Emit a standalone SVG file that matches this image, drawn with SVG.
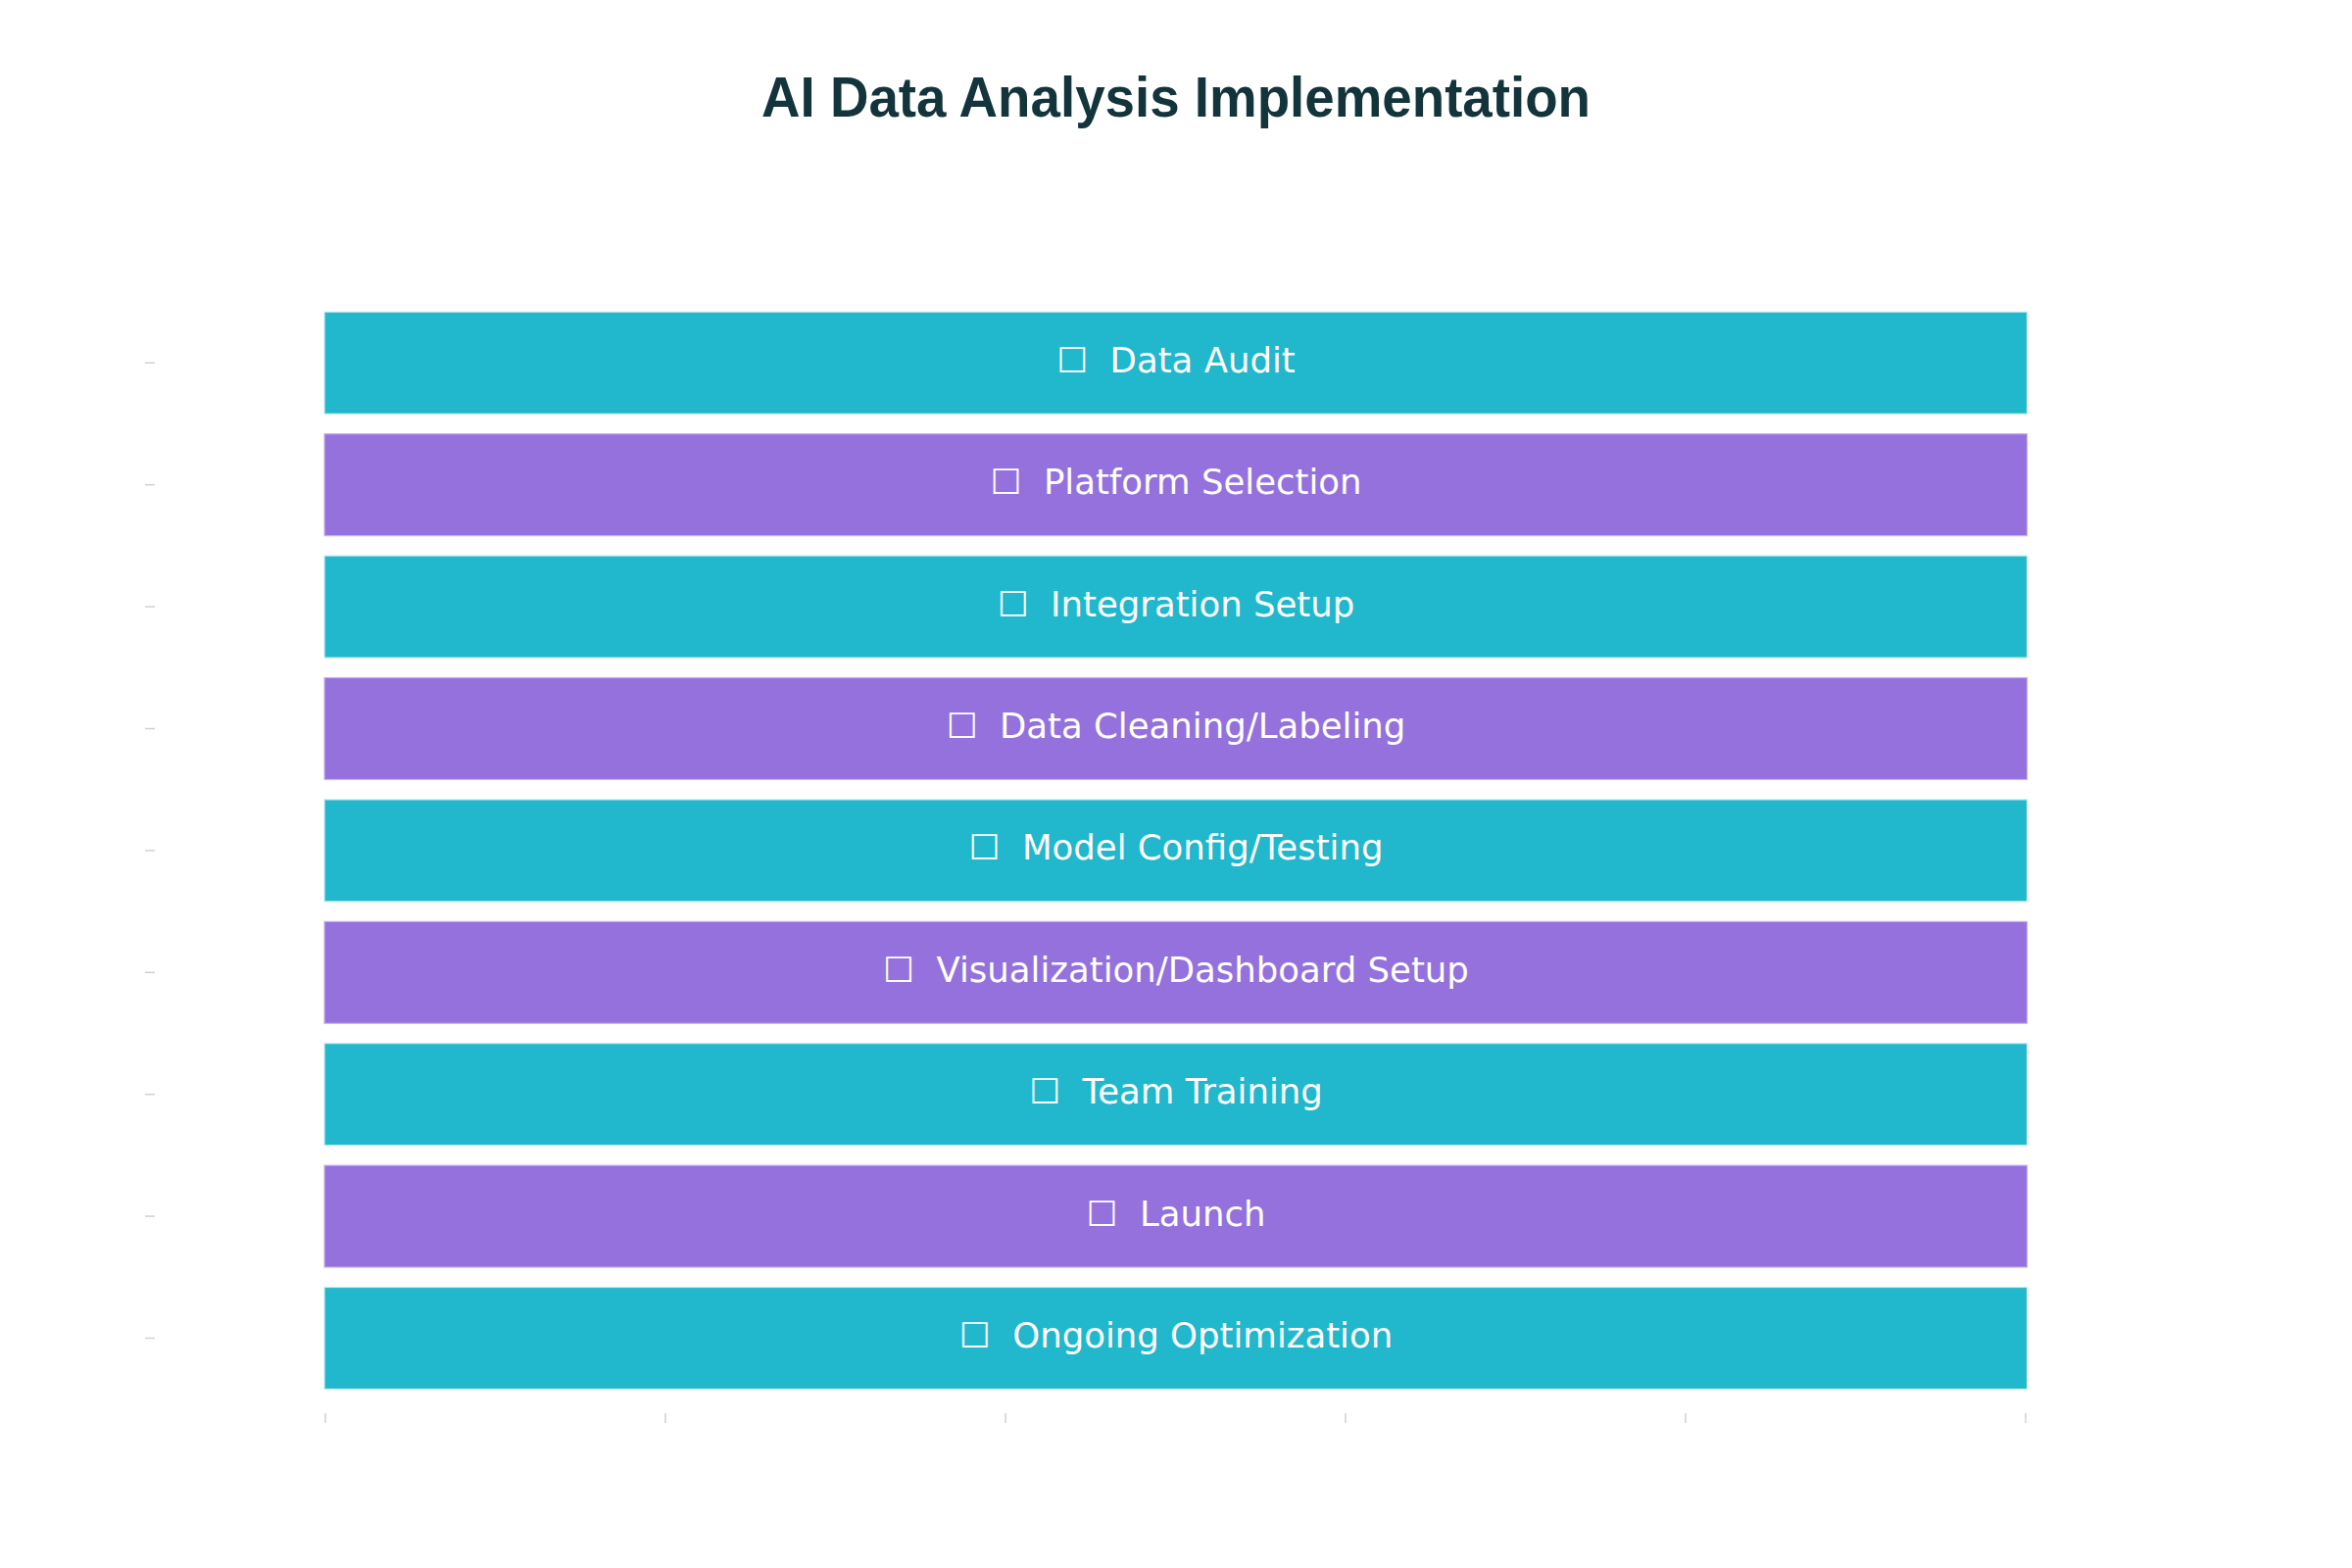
<svg xmlns="http://www.w3.org/2000/svg" width="2400" height="1600" viewBox="0 0 2400 1600">
<style>
.bg{fill:#ffffff}
.title{font-family:"Liberation Sans",Arial,sans-serif;font-weight:bold;font-size:58px;fill:#13343B}
.teal{fill:#21B7CD;stroke:#c8eef3;stroke-width:1.2}
.purple{fill:#9471DC;stroke:#c9b6ef;stroke-width:1.2}
.lbl{font-family:"DejaVu Sans","Noto Sans",sans-serif;font-size:35.5px;fill:#ffffff;text-anchor:middle;white-space:pre}
.tick{stroke:#ccd2d4;stroke-width:1.5}
</style>
<rect class="bg" x="0" y="0" width="2400" height="1600"/>
<text class="title" x="777" y="119" textLength="846" lengthAdjust="spacingAndGlyphs">AI Data Analysis Implementation</text>
<g id="axes">
<line class="tick" x1="148" y1="370.3" x2="158" y2="370.3"/>
<line class="tick" x1="148" y1="494.7" x2="158" y2="494.7"/>
<line class="tick" x1="148" y1="619.1" x2="158" y2="619.1"/>
<line class="tick" x1="148" y1="743.5" x2="158" y2="743.5"/>
<line class="tick" x1="148" y1="867.9" x2="158" y2="867.9"/>
<line class="tick" x1="148" y1="992.3" x2="158" y2="992.3"/>
<line class="tick" x1="148" y1="1116.7" x2="158" y2="1116.7"/>
<line class="tick" x1="148" y1="1241.1" x2="158" y2="1241.1"/>
<line class="tick" x1="148" y1="1365.5" x2="158" y2="1365.5"/>
<line class="tick" x1="332" y1="1442" x2="332" y2="1452"/>
<line class="tick" x1="679" y1="1442" x2="679" y2="1452"/>
<line class="tick" x1="1026" y1="1442" x2="1026" y2="1452"/>
<line class="tick" x1="1373" y1="1442" x2="1373" y2="1452"/>
<line class="tick" x1="1720" y1="1442" x2="1720" y2="1452"/>
<line class="tick" x1="2067" y1="1442" x2="2067" y2="1452"/>
</g>
<g id="connectors"></g>
<g id="n1"><rect class="teal" x="331" y="318.3" width="1737.5" height="104"/><text class="lbl" x="1200" y="379.8">☐  Data Audit</text></g>
<g id="n2"><rect class="purple" x="331" y="442.7" width="1737.5" height="104"/><text class="lbl" x="1200" y="504.2">☐  Platform Selection</text></g>
<g id="n3"><rect class="teal" x="331" y="567.1" width="1737.5" height="104"/><text class="lbl" x="1200" y="628.6">☐  Integration Setup</text></g>
<g id="n4"><rect class="purple" x="331" y="691.5" width="1737.5" height="104"/><text class="lbl" x="1200" y="753">☐  Data Cleaning/Labeling</text></g>
<g id="n5"><rect class="teal" x="331" y="815.9" width="1737.5" height="104"/><text class="lbl" x="1200" y="877.4">☐  Model Config/Testing</text></g>
<g id="n6"><rect class="purple" x="331" y="940.3" width="1737.5" height="104"/><text class="lbl" x="1200" y="1001.8">☐  Visualization/Dashboard Setup</text></g>
<g id="n7"><rect class="teal" x="331" y="1064.7" width="1737.5" height="104"/><text class="lbl" x="1200" y="1126.2">☐  Team Training</text></g>
<g id="n8"><rect class="purple" x="331" y="1189.1" width="1737.5" height="104"/><text class="lbl" x="1200" y="1250.6">☐  Launch</text></g>
<g id="n9"><rect class="teal" x="331" y="1313.5" width="1737.5" height="104"/><text class="lbl" x="1200" y="1375">☐  Ongoing Optimization</text></g>
</svg>
